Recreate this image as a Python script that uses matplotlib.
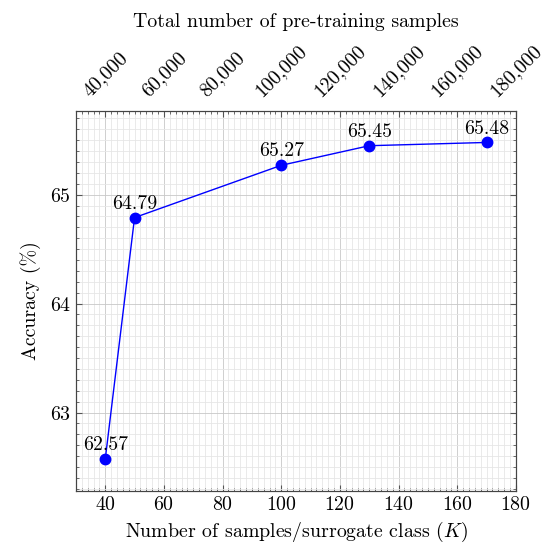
import matplotlib.pyplot as plt
import numpy as np
from matplotlib.ticker import MultipleLocator, FixedLocator

plt.rcParams['font.family'] = 'cmr10'
plt.rcParams['mathtext.fontset'] = 'cm'
plt.rcParams['axes.formatter.use_mathtext'] = True

k = [40, 50, 100, 130, 170]
acc = [62.57, 64.79, 65.27, 65.45, 65.48]
labels = ["62.57", "64.79", "65.27", "65.45", "65.48"]
top_ticks = [40, 60, 80, 100, 120, 140, 160, 180]
top_labels = ["40,000", "60,000", "80,000", "100,000", "120,000", "140,000", "160,000", "180,000"]

fs = 14.3

fig = plt.figure(figsize=(5.5, 5.44), dpi=100)
ax = fig.add_axes([0.138, 0.0974, 0.800, 0.699])

ax.plot(k, acc, color='blue', lw=1, marker='o', ms=7.5, zorder=3)
for x, y, s in zip(k, acc, labels):
    ax.annotate(s, (x, y), xytext=(0, 3.5), textcoords='offset points',
                ha='center', va='bottom', fontsize=fs, zorder=4)

ax.set_xlim(30, 180)
ax.set_ylim(62.279, 65.771)
ax.xaxis.set_major_locator(MultipleLocator(20))
ax.xaxis.set_minor_locator(MultipleLocator(2))
ax.yaxis.set_major_locator(MultipleLocator(1))
ax.yaxis.set_minor_locator(MultipleLocator(0.1))
ax.grid(which='minor', color='#e6e6e6', lw=0.6)
ax.grid(which='major', color='#c8c8c8', lw=0.6)
ax.set_axisbelow(True)
ax.tick_params(which='both', direction='in', top=False, right=True,
               labelsize=fs, color='#555555')
ax.tick_params(which='major', length=4)
ax.tick_params(which='minor', length=2)
for sp in ax.spines.values():
    sp.set_color('#444444')
ax.set_xlabel("Number of samples/surrogate class ($K$)", fontsize=fs, labelpad=4)
ax.set_ylabel("Accuracy (%)", fontsize=fs, labelpad=6)

ax2 = ax.twiny()
ax2.set_xlim(ax.get_xlim())
ax2.xaxis.set_major_locator(FixedLocator(top_ticks))
ax2.xaxis.set_minor_locator(MultipleLocator(2))
ax2.set_xticklabels(top_labels, rotation=45, ha='center', fontsize=fs)
ax2.tick_params(which='both', direction='in', color='#555555', pad=8)
ax2.tick_params(which='major', length=4)
ax2.tick_params(which='minor', length=2)
ax2.set_xlabel("Total number of pre-training samples", fontsize=fs, labelpad=10)
for sp in ax2.spines.values():
    sp.set_color('#444444')

fig.savefig("out.png", dpi=100)
